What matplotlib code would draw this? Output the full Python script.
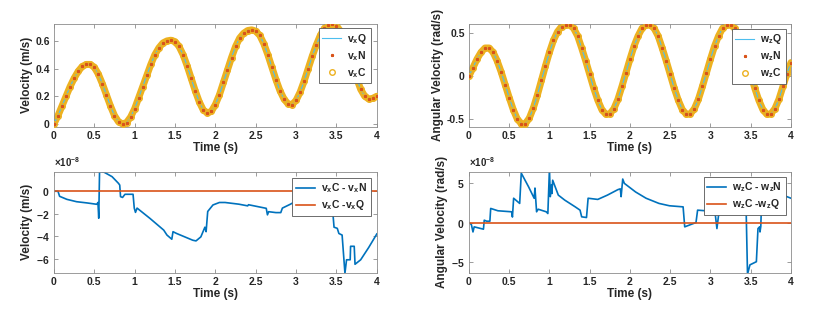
import numpy as np
import matplotlib
matplotlib.use("Agg")
import matplotlib.pyplot as plt
from matplotlib.ticker import ScalarFormatter

plt.rcParams['font.family'] = ['Liberation Sans', 'DejaVu Sans']
plt.rcParams['font.weight'] = 'bold'
plt.rcParams['mathtext.fontset'] = 'custom'
plt.rcParams['mathtext.bf'] = 'Liberation Sans:bold'
plt.rcParams['mathtext.rm'] = 'Liberation Sans:bold'
plt.rcParams['mathtext.default'] = 'bf'

# time samples of the top plots (s)
t = np.linspace(0, 4, 81)

# v_x (m/s): Q, N and C coincide
vx = [0.00, 0.06, 0.13, 0.20, 0.27, 0.33, 0.38, 0.415, 0.43, 0.43,
      0.41, 0.36, 0.29, 0.21, 0.13, 0.06, 0.015, 0.0, 0.01, 0.05,
      0.11, 0.19, 0.27, 0.35, 0.43, 0.50, 0.55, 0.585, 0.60, 0.605,
      0.595, 0.56, 0.50, 0.42, 0.33, 0.24, 0.16, 0.10, 0.08, 0.09,
      0.14, 0.21, 0.30, 0.39, 0.48, 0.56, 0.62, 0.655, 0.675, 0.68,
      0.67, 0.64, 0.58, 0.50, 0.41, 0.32, 0.24, 0.18, 0.145, 0.14,
      0.17, 0.23, 0.31, 0.40, 0.49, 0.57, 0.64, 0.69, 0.715, 0.72,
      0.71, 0.67, 0.60, 0.51, 0.42, 0.33, 0.25, 0.20, 0.18, 0.185, 0.20]

# w_z (rad/s): Q, N and C coincide
wz = [0.00, 0.10, 0.20, 0.28, 0.33, 0.33, 0.28, 0.18, 0.05, -0.10,
      -0.25, -0.39, -0.50, -0.555, -0.555, -0.49, -0.37, -0.22, -0.05, 0.12,
      0.28, 0.42, 0.52, 0.58, 0.60, 0.60, 0.56, 0.47, 0.33, 0.18,
      0.02, -0.14, -0.28, -0.39, -0.445, -0.44, -0.38, -0.27, -0.12, 0.04,
      0.20, 0.35, 0.47, 0.56, 0.60, 0.60, 0.56, 0.47, 0.33, 0.18,
      0.02, -0.14, -0.28, -0.39, -0.445, -0.44, -0.38, -0.27, -0.12, 0.04,
      0.20, 0.35, 0.47, 0.56, 0.60, 0.60, 0.56, 0.47, 0.33, 0.18,
      0.02, -0.14, -0.28, -0.39, -0.445, -0.44, -0.38, -0.27, -0.12, 0.03, 0.16]

# v_x C - v_x N (x1e-8 m/s)
t_dvx = [0.00, 0.05, 0.07, 0.16, 0.28, 0.41, 0.53, 0.545, 0.555, 0.565,
         0.62, 0.72, 0.80, 0.815, 0.825, 0.85, 0.88, 0.98, 0.995, 1.01,
         1.03, 1.19, 1.36, 1.40, 1.46, 1.475, 1.52, 1.60, 1.72, 1.76,
         1.82, 1.87, 1.885, 1.905, 1.97, 2.05, 2.12, 2.29, 2.40, 2.41,
         2.63, 2.645, 2.66, 2.75, 2.81, 2.83, 2.93, 3.02, 3.15, 3.30,
         3.44, 3.47, 3.51, 3.53, 3.57, 3.605, 3.625, 3.67, 3.675, 3.72,
         3.73, 3.80, 3.90, 4.00]
dvx = [0.0, 0.0, -0.45, -0.72, -0.93, -1.04, -1.16, -1.0, -2.4, 1.75,
       1.7, 1.3, 0.7, 0.55, -0.48, -0.55, -0.27, -0.27, -1.5, -1.88,
       -1.5, -2.42, -3.46, -3.9, -4.27, -3.6, -3.76, -4.0, -4.36, -4.42,
       -4.06, -3.2, -3.6, -1.8, -1.22, -1.0, -1.0, -1.15, -1.3, -1.2,
       -1.52, -2.1, -1.82, -1.9, -1.9, -1.5, -1.15, -0.8, -0.6, -0.5,
       -0.6, -3.2, -3.3, -3.76, -3.9, -7.3, -6.1, -6.1, -4.9, -4.9,
       -6.5, -6.1, -5.0, -3.8]

# w_z C - w_z N (x1e-8 rad/s)
t_dwz = [0.00, 0.03, 0.05, 0.065, 0.18, 0.19, 0.22, 0.26, 0.27, 0.36,
         0.53, 0.54, 0.555, 0.63, 0.65, 0.74, 0.81, 0.82, 0.84, 0.86,
         0.96, 0.98, 1.00, 1.01, 1.025, 1.03, 1.04, 1.11, 1.19, 1.32,
         1.38, 1.40, 1.46, 1.48, 1.60, 1.72, 1.85, 1.88, 1.89, 1.91,
         1.93, 2.07, 2.20, 2.36, 2.49, 2.66, 2.68, 2.82, 2.84, 2.94,
         3.00, 3.06, 3.08, 3.10, 3.13, 3.25, 3.44, 3.46, 3.49, 3.57,
         3.59, 3.61, 3.615, 3.625, 3.64, 3.80, 3.95, 4.00]
dwz = [0.0, -0.26, -1.2, -0.55, -0.85, 0.3, 0.17, 0.17, 1.8, 1.5,
       1.37, 0.7, 3.1, 2.44, 6.3, 4.57, 3.1, 4.4, 1.37, 1.7,
       1.37, 1.15, 6.9, 3.3, 4.8, 3.7, 5.4, 3.5, 2.86, 2.0,
       1.58, 0.73, 0.64, 3.1, 2.95, 3.5, 4.2, 4.3, 3.3, 5.55,
       5.0, 3.9, 3.1, 2.44, 2.14, 2.0, -0.55, 0.0, 1.58, 1.5,
       1.37, 1.0, -0.77, 0.9, 1.8, 2.5, 3.0, -6.6, -5.4, -5.0,
       -0.77, -0.55, -1.2, -0.5, 4.5, 3.8, 3.3, 3.1]

c_q = '#4DBEEE'
c_n = '#D95319'
c_c = '#EDB120'
c_blue = '#0072BD'
spine_c = '#8c8c8c'
text_c = '#262626'

fig = plt.figure(figsize=(8.3, 3.12), dpi=100)
ax1 = fig.add_axes([0.065, 0.594, 0.389, 0.329])
ax2 = fig.add_axes([0.565, 0.594, 0.388, 0.329])
ax3 = fig.add_axes([0.065, 0.126, 0.389, 0.324])
ax4 = fig.add_axes([0.565, 0.126, 0.388, 0.324])


def style(ax):
    ax.set_xlim(0, 4)
    ax.set_xticks([0, 0.5, 1, 1.5, 2, 2.5, 3, 3.5, 4])
    ax.set_xticklabels(['0', '0.5', '1', '1.5', '2', '2.5', '3', '3.5', '4'])
    ax.tick_params(direction='in', top=True, right=True, length=3, width=0.6,
                   color=spine_c, labelcolor=text_c, labelsize=7.5, pad=3)
    for lab in ax.get_xticklabels() + ax.get_yticklabels():
        lab.set_fontweight('bold')
    for s in ax.spines.values():
        s.set_color(spine_c)
        s.set_linewidth(0.6)
    ax.set_xlabel('Time (s)', fontsize=8.5, fontweight='bold', color=text_c, labelpad=1)


def top_plot(ax, y, name, ylabel, ylim, yticks, ytl):
    ax.plot(t, y, color=c_c, lw=5, zorder=1, solid_capstyle='round')
    ax.plot(t, y, color=c_q, lw=0.8, zorder=2, label=name + 'Q')
    ax.plot(t, y, ls='none', marker='*', ms=2, color=c_n, zorder=4, label=name + 'N')
    ax.plot(t, y, ls='none', marker='o', ms=4, mfc='none', mec=c_c, mew=1.0,
            zorder=3, label=name + 'C')
    ax.set_ylim(*ylim)
    ax.set_yticks(yticks)
    ax.set_yticklabels(ytl)
    ax.set_ylabel(ylabel, fontsize=8.5, fontweight='bold', color=text_c, labelpad=2)
    style(ax)


def bottom_plot(ax, tt, d, name, ylabel, ylim, yticks):
    ax.plot(tt, np.array(d) * 1e-8, color=c_blue, lw=1.2, label=name + 'C - ' + name + 'N')
    ax.plot([0, 4], [0, 0], color=c_n, lw=1.2, label=name + 'C -' + name + 'Q')
    ax.set_ylim(ylim[0] * 1e-8, ylim[1] * 1e-8)
    ax.set_yticks(np.array(yticks) * 1e-8)
    fmt = ScalarFormatter(useMathText=True)
    fmt.set_powerlimits((0, 0))
    ax.yaxis.set_major_formatter(fmt)
    ax.yaxis.get_offset_text().set_fontsize(7)
    ax.yaxis.get_offset_text().set_color('#555555')
    ax.set_ylabel(ylabel, fontsize=8.5, fontweight='bold', color=text_c, labelpad=2)
    style(ax)


top_plot(ax1, vx, 'v$_x$', 'Velocity (m/s)', (-0.02, 0.722),
         [0, 0.2, 0.4, 0.6], ['0', '0.2', '0.4', '0.6'])
top_plot(ax2, wz, 'w$_z$', 'Angular Velocity (rad/s)', (-0.59, 0.61),
         [-0.5, 0, 0.5], ['-0.5', '0', '0.5'])
bottom_plot(ax3, t_dvx, dvx, 'v$_x$', 'Velocity (m/s)', (-7.25, 1.75), [-6, -4, -2, 0])
bottom_plot(ax4, t_dwz, dwz, 'w$_z$', 'Angular Velocity (rad/s)', (-6.4, 6.5), [-5, 0, 5])

for ax, anchor in [(ax1, (0.981, 0.961)), (ax2, (0.984, 0.955)),
                   (ax3, (0.981, 0.94)), (ax4, (0.984, 0.95))]:
    leg = ax.legend(loc='upper right', bbox_to_anchor=anchor, borderaxespad=0,
                    fontsize=7.5, frameon=True, fancybox=False, framealpha=1,
                    handlelength=1.8, handletextpad=0.6, borderpad=0.35,
                    labelspacing=0.3)
    leg.get_frame().set_edgecolor('#555555')
    leg.get_frame().set_linewidth(0.6)
    for txt in leg.get_texts():
        txt.set_color(text_c)
        txt.set_fontweight('bold')

fig.savefig('out.png', dpi=100)
